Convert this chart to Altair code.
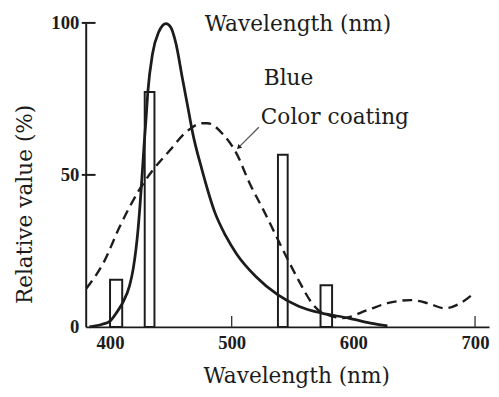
import altair as alt
import pandas as pd

# ---------------- data ----------------
solid_wl = [383, 388, 393, 400, 405, 411, 416, 419, 423, 425.7, 428, 429.5, 431, 435, 440,
            446, 450, 454, 459.5, 465, 467.6, 475.7, 486.3, 495, 504, 520, 538, 555, 574,
            596, 614, 628]
solid_val = [0, 0.3, 0.8, 1.9, 4.5, 8.4, 13.5, 19, 32, 46, 60, 68, 77, 90, 97,
             99.8, 98.5, 93.5, 81.7, 70, 64.4, 51.5, 37.5, 30, 24, 16.5, 10.5, 6.8, 4.5,
             2.9, 1.2, 0.3]

dash_wl = [380.5, 395, 408, 423, 435, 449, 462, 476, 480, 493, 504, 515, 526, 545, 555,
           566, 571, 580, 591, 612, 628, 647, 661, 675, 688, 699]
dash_val = [12.6, 21.4, 33, 44.4, 51.5, 58, 63.9, 67, 67, 63.3, 57, 47, 38.5, 23, 15.3,
            7.8, 5.6, 3.8, 2.9, 5.6, 7.8, 8.8, 7.8, 6.1, 7.8, 11]

bar_start = [400, 428.5, 538, 573]
bar_end = [410, 436.5, 546, 582.5]
bar_val = [15.5, 77.3, 56.6, 13.7]

x_ticks = [400, 500, 600, 700]
y_ticks = [0, 50, 100]
x_inner_ticks = [400, 500, 700]
y_inner_ticks = [50, 100]

x_title = "Wavelength (nm)"
y_title = "Relative value (%)"
top_label = "Wavelength (nm)"
label_blue = "Blue"
label_coating = "Color coating"

# ---------------- style ----------------
INK = "#1c1c1c"
TITLE_FONT = "DejaVu Serif"
TICK_FONT = "Liberation Serif"

xs = alt.Scale(domain=[380, 711.5], nice=False, zero=False)
ys = alt.Scale(domain=[0, 100], nice=False, zero=True)

x_axis = alt.Axis(values=x_ticks, title=x_title, labelPadding=7, labelFlush=False,
                  titleX=214, titleY=57, titleAlign="center", titleBaseline="alphabetic")
y_axis = alt.Axis(values=y_ticks, title=y_title, labelPadding=7, labelFlush=False,
                  titleX=-55, titleY=184, titleAngle=270, titleAlign="center",
                  titleBaseline="alphabetic")


def X(field):
    return alt.X(field, type="quantitative", scale=xs, axis=x_axis)


def Y(field):
    return alt.Y(field, type="quantitative", scale=ys, axis=y_axis)


solid_df = pd.DataFrame({"wl": solid_wl, "v": solid_val})
dash_df = pd.DataFrame({"wl": dash_wl, "v": dash_val})
bar_df = pd.DataFrame({"wl": bar_start, "wl2": bar_end, "v": bar_val})
xt_df = pd.DataFrame({"wl": x_inner_ticks})
yt_df = pd.DataFrame({"v": y_inner_ticks})

solid = alt.Chart(solid_df).mark_line(
    color=INK, strokeWidth=2.8, interpolate="monotone"
).encode(x=X("wl"), y=Y("v"))

dashed = alt.Chart(dash_df).mark_line(
    color=INK, strokeWidth=2.4, strokeDash=[10, 6], interpolate="monotone"
).encode(x=X("wl"), y=Y("v"))

bars = alt.Chart(bar_df).mark_rect(
    fill="transparent", stroke=INK, strokeWidth=2
).encode(x=X("wl"), x2="wl2", y=Y("v"), y2=alt.datum(0))

xtick = alt.Chart(xt_df).mark_rule(color=INK, strokeWidth=1.2).encode(
    x=X("wl"), y=alt.value(309), y2=alt.value(298))

ytick = alt.Chart(yt_df).mark_rule(color=INK, strokeWidth=2).encode(
    y=Y("v"), x=alt.value(-4), x2=alt.value(10))

one = alt.Data(values=[{"a": 1}])


def label(txt, px, py):
    return alt.Chart(one).mark_text(
        text=txt, font=TITLE_FONT, fontSize=22, color=INK, align="left",
        baseline="alphabetic"
    ).encode(x=alt.value(px), y=alt.value(py))


t_top = label(top_label, 121, 8)
t_blue = label(label_blue, 181, 63)
t_coat = label(label_coating, 178, 103)

leader = alt.Chart(one).mark_rule(color="#555555", strokeWidth=1.3).encode(
    x=alt.value(176), x2=alt.value(157), y=alt.value(106), y2=alt.value(125))
arrow = alt.Chart(one).mark_point(
    shape="triangle", filled=True, size=28, angle=225, color=INK, opacity=1
).encode(x=alt.value(156), y=alt.value(126))

chart = alt.layer(
    bars, dashed, solid, xtick, ytick, t_top, t_blue, t_coat, leader, arrow
).properties(
    width=410, height=309,
    padding={"left": 79, "top": 12, "right": 2, "bottom": 60},
    autosize=alt.AutoSizeParams(type="none"),
    background="white",
).configure_view(stroke=None).configure_axis(
    grid=False, ticks=False, tickSize=0, domainColor=INK, domainWidth=2,
    labelFont=TICK_FONT, labelFontWeight="bold", labelFontSize=19, labelColor=INK,
    titleFont=TITLE_FONT, titleFontSize=22, titleFontWeight="normal", titleColor=INK,
)

chart.save("out.html", embed_options={"renderer": "svg", "actions": False})
